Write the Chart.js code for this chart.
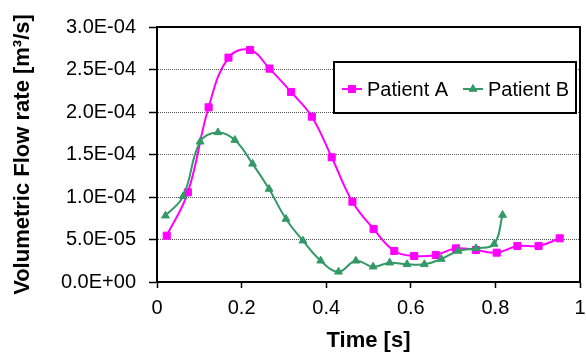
<!DOCTYPE html>
<html lang="en">
<head>
    <meta charset="UTF-8">
    <title>Volumetric Flow rate</title>
    <style>
        body { margin: 0; background: #fff; }
        canvas { display: block; }
    </style>
</head>
<body>
    <canvas id="flowChart" width="586" height="357"></canvas>
    <script src="https://cdn.jsdelivr.net/npm/chart.js"></script>
    <script>
        // values
        const timeA = [0.023, 0.073, 0.122, 0.169, 0.220, 0.266, 0.317, 0.366, 0.413, 0.462, 0.512, 0.561, 0.608, 0.659, 0.707, 0.754, 0.803, 0.852, 0.902, 0.952];
        const flowA = [5.45e-5, 1.055e-4, 2.055e-4, 2.64e-4, 2.73e-4, 2.51e-4, 2.235e-4, 1.945e-4, 1.467e-4, 9.45e-5, 6.24e-5, 3.65e-5, 3.06e-5, 3.18e-5, 3.96e-5, 3.76e-5, 3.45e-5, 4.24e-5, 4.24e-5, 5.14e-5];
        const timeB = [0.020, 0.062, 0.102, 0.144, 0.184, 0.226, 0.265, 0.305, 0.345, 0.387, 0.429, 0.470, 0.511, 0.550, 0.591, 0.632, 0.672, 0.712, 0.754, 0.797, 0.817];
        const flowB = [7.8e-5, 1.01e-4, 1.65e-4, 1.76e-4, 1.67e-4, 1.39e-4, 1.094e-4, 7.41e-5, 4.86e-5, 2.5e-5, 1.2e-5, 2.5e-5, 1.8e-5, 2.27e-5, 2.08e-5, 2.08e-5, 2.7e-5, 3.65e-5, 3.96e-5, 4.47e-5, 7.88e-5];
        const seriesNames = ['Patient A', 'Patient B'];

        const colorA = '#ff00ff';
        const colorB = '#339966';

        Chart.defaults.font.family = "'Liberation Sans', Arial, sans-serif";
        Chart.defaults.color = '#000';

        // y tick labels in Excel style, e.g. 2.5E-04
        function sciLabel(v) {
            const parts = Number(v).toExponential(1).split('e');
            const exp = parseInt(parts[1], 10);
            const sign = exp < 0 ? '-' : '+';
            return parts[0] + 'E' + sign + String(Math.abs(exp)).padStart(2, '0');
        }

        // frame round the plot area + boxed legend inside it
        const framePlugin = {
            id: 'frameAndLegend',
            afterDraw(chart) {
                const a = chart.chartArea;
                const ctx = chart.ctx;
                ctx.save();
                ctx.setLineDash([]);
                ctx.strokeStyle = '#000';
                ctx.lineWidth = 2;
                ctx.beginPath();
                ctx.rect(a.left, a.top, a.right - a.left, a.bottom - a.top);
                ctx.stroke();

                ctx.fillStyle = '#fff';
                ctx.fillRect(334, 62, 242, 51);
                ctx.strokeRect(334, 62, 242, 51);

                const y = 89;
                const entries = [
                    { x: 342, tx: 367, color: colorA, style: 'rect', r: 5 },
                    { x: 463, tx: 488, color: colorB, style: 'triangle', r: 4.5 }
                ];
                entries.forEach((e, i) => {
                    ctx.strokeStyle = e.color;
                    ctx.lineWidth = 2;
                    ctx.beginPath();
                    ctx.moveTo(e.x, y);
                    ctx.lineTo(e.x + 20, y);
                    ctx.stroke();
                    ctx.fillStyle = e.color;
                    ctx.lineWidth = 1;
                    Chart.helpers.drawPoint(ctx, { pointStyle: e.style, radius: e.r, rotation: 0, borderWidth: 1 }, e.x + 10, y);
                    ctx.fillStyle = '#000';
                    ctx.font = "20px 'Liberation Sans', Arial, sans-serif";
                    ctx.textBaseline = 'middle';
                    ctx.fillText(seriesNames[i], e.tx, y + 1);
                });
                ctx.restore();
            }
        };

        const ctx = document.getElementById('flowChart').getContext('2d');
        const flowChart = new Chart(ctx, {
            type: 'line',
            data: {
                datasets: [
                    {
                        label: seriesNames[0],
                        data: timeA.map((t, i) => ({ x: t, y: flowA[i] })),
                        borderColor: colorA,
                        backgroundColor: colorA,
                        borderWidth: 2,
                        pointStyle: 'rect',
                        pointRadius: 5,
                        pointBorderWidth: 1,
                        tension: 0.4,
                        fill: false,
                        order: 1
                    },
                    {
                        label: seriesNames[1],
                        data: timeB.map((t, i) => ({ x: t, y: flowB[i] })),
                        borderColor: colorB,
                        backgroundColor: colorB,
                        borderWidth: 2,
                        pointStyle: 'triangle',
                        pointRadius: 4.5,
                        pointBorderWidth: 1,
                        tension: 0.4,
                        fill: false,
                        order: 0
                    }
                ]
            },
            options: {
                responsive: false,
                animation: false,
                layout: { padding: { left: 0, top: 27, right: 2, bottom: 0 } },
                plugins: {
                    legend: { display: false },
                    tooltip: { enabled: false }
                },
                scales: {
                    x: {
                        type: 'linear',
                        min: 0,
                        max: 1,
                        afterFit(scale) {
                            scale.height = 75;
                            scale.paddingLeft = 0;
                            scale.paddingRight = 0;
                        },
                        ticks: {
                            stepSize: 0.2,
                            padding: 8,
                            font: { size: 20 },
                            maxRotation: 0,
                            callback: v => (v === 0 ? '0' : v === 1 ? '1' : Number(v).toFixed(1))
                        },
                        grid: {
                            drawOnChartArea: false,
                            tickLength: 6,
                            tickColor: '#000',
                            tickWidth: 1.5
                        },
                        border: { display: true, color: '#000', width: 2 },
                        title: {
                            display: true,
                            text: 'Time [s]',
                            font: { size: 22, weight: 'bold' },
                            padding: { top: 0, bottom: 3 }
                        }
                    },
                    y: {
                        min: 0,
                        max: 3e-4,
                        afterFit(scale) {
                            scale.width = 157;
                        },
                        ticks: {
                            stepSize: 5e-5,
                            padding: 13,
                            font: { size: 20 },
                            callback: v => sciLabel(v)
                        },
                        grid: {
                            color: '#555',
                            lineWidth: 1,
                            tickLength: 8,
                            tickColor: '#000',
                            tickWidth: 1.5,
                            tickBorderDash: []
                        },
                        border: { display: true, color: '#000', width: 2, dash: [1, 1] },
                        title: {
                            display: true,
                            text: 'Volumetric Flow rate [m³/s]',
                            font: { size: 22, weight: 'bold' },
                            padding: { top: 10, bottom: 0 }
                        }
                    }
                }
            },
            plugins: [framePlugin]
        });
    </script>
</body>
</html>
